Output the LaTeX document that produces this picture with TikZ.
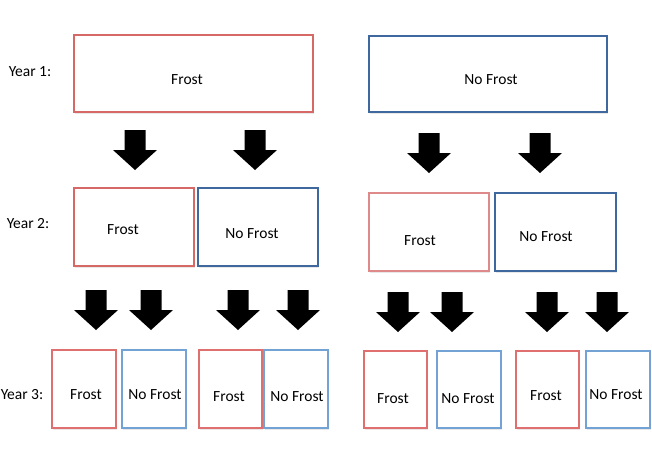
\documentclass[tikz,border=0pt]{standalone}
\usepackage{fontspec}
\setmainfont{Carlito}
\usetikzlibrary{shadows}
\definecolor{redA}{RGB}{214,104,102}
\definecolor{redB}{RGB}{222,138,138}
\definecolor{redC}{RGB}{224,112,112}
\definecolor{blueA}{RGB}{62,104,158}
\definecolor{blueC}{RGB}{115,162,212}
\tikzset{
  box/.style={draw, line width=1.2pt, inner sep=0pt, outer sep=0pt, fill=white,
    drop shadow={opacity=0.18, shadow xshift=0.6pt, shadow yshift=-1.6pt}},
  lbl/.style={inner sep=0pt, font=\fontsize{15.5}{18}\selectfont},
  downarr/.pic={\fill[black] (-10.5,-20) -- (10.5,-20) -- (10.5,0) -- (22,0) -- (0,20) -- (-22,0) -- (-10.5,0) -- cycle;}
}
\begin{document}
\begin{tikzpicture}[x=1pt,y=-1pt]
\useasboundingbox (0,0) rectangle (652,450);
% Year labels
\node[lbl] (l1) at (30,72) {Year 1:};
\node[lbl] (l2) at (28,224) {Year 2:};
\node[lbl] (l3) at (22,395) {Year 3:};
% Year 1
\node[box, draw=redA, minimum width=239pt, minimum height=77pt] (a) at (193.5,73.5) {};
\node[lbl] (at) at (187,80) {Frost};
\node[box, draw=blueA, minimum width=238pt, minimum height=76pt] (b) at (488,74) {};
\node[lbl] (bt) at (491,80) {No Frost};
% arrows row 1
\pic at (135,150) {downarr};
\pic at (255,150) {downarr};
\pic at (429,153) {downarr};
\pic at (540,153) {downarr};
% Year 2
\node[box, draw=redA, minimum width=120pt, minimum height=78pt] (c) at (134,227) {};
\node[lbl] (ct) at (123,230) {Frost};
\node[box, draw=blueA, minimum width=120pt, minimum height=78pt] (d) at (258,227) {};
\node[lbl] (dt) at (252,234) {No Frost};
\node[box, draw=redB, minimum width=120pt, minimum height=78pt] (e) at (429,232) {};
\node[lbl] (et) at (420,241) {Frost};
\node[box, draw=blueA, minimum width=121pt, minimum height=78pt] (f) at (555.5,232) {};
\node[lbl] (ft) at (546,237) {No Frost};
% arrows row 2
\pic at (96,310) {downarr};
\pic at (151,310) {downarr};
\pic at (238,310) {downarr};
\pic at (298,310) {downarr};
\pic at (398,312) {downarr};
\pic at (452,312) {downarr};
\pic at (547,312) {downarr};
\pic at (607,312) {downarr};
% Year 3
\node[box, draw=redC, minimum width=64pt, minimum height=78pt] (g1) at (84,389) {};
\node[lbl] (g1t) at (86,395) {Frost};
\node[box, draw=blueC, minimum width=64pt, minimum height=78pt] (g2) at (154,389) {};
\node[lbl] (g2t) at (155,395) {No Frost};
\node[box, draw=redC, minimum width=63pt, minimum height=78pt] (g3) at (230.5,389) {};
\node[lbl] (g3t) at (229,397) {Frost};
\node[box, draw=blueC, minimum width=64pt, minimum height=78pt] (g4) at (296,389) {};
\node[lbl] (g4t) at (297,397) {No Frost};
\node[box, draw=redC, minimum width=63pt, minimum height=77pt] (h1) at (395.5,389.5) {};
\node[lbl] (h1t) at (393,399) {Frost};
\node[box, draw=blueC, minimum width=64pt, minimum height=77pt] (h2) at (469,389.5) {};
\node[lbl] (h2t) at (468,399) {No Frost};
\node[box, draw=redC, minimum width=63pt, minimum height=77pt] (h3) at (547.5,389.5) {};
\node[lbl] (h3t) at (546,396) {Frost};
\node[box, draw=blueC, minimum width=64pt, minimum height=77pt] (h4) at (618,389.5) {};
\node[lbl] (h4t) at (616,395) {No Frost};
\end{tikzpicture}
\end{document}
